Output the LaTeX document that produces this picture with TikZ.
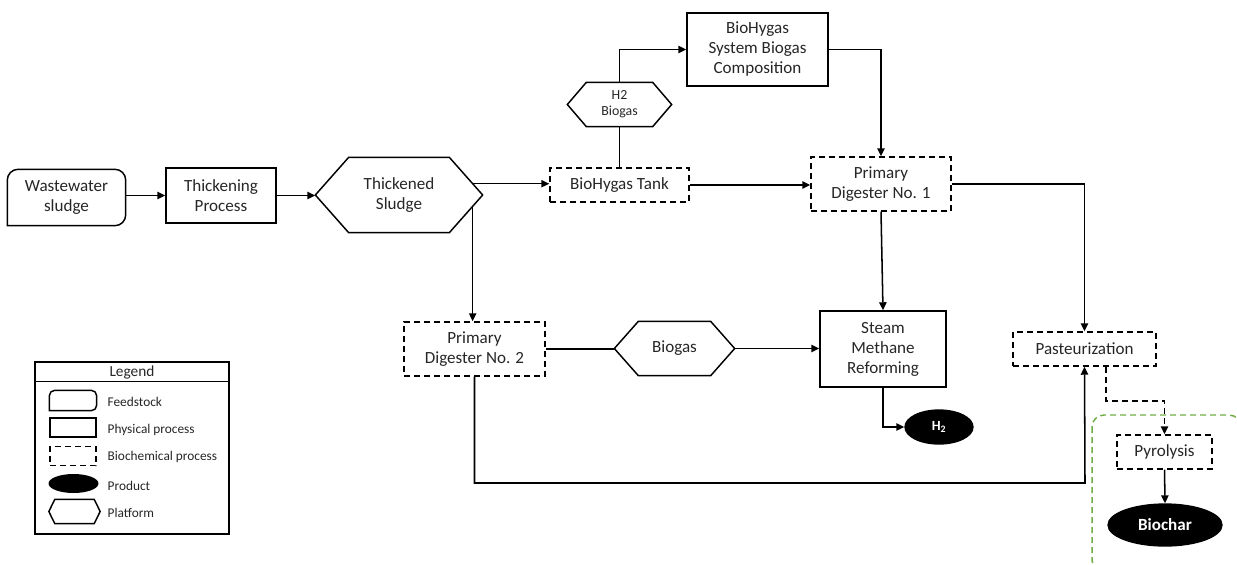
\documentclass[tikz,border=0pt]{standalone}
\usepackage{fontspec}
\setmainfont{Carlito}
\usetikzlibrary{arrows.meta,calc,shapes.geometric}

\definecolor{regiongreen}{RGB}{112,173,71}

\newcommand{\feedframe}[2]{\draw[line width=1.1pt] (#1.south west) [rounded corners=#2] -- (#1.north west) -- (#1.north east) -- (#1.south east) [sharp corners] -- cycle;}
\newcommand{\hexframe}[2]{\draw[line width=1.1pt] (#1.west) -- ([xshift=#2]#1.north west) -- ([xshift=-#2]#1.north east) -- (#1.east) -- ([xshift=-#2]#1.south east) -- ([xshift=#2]#1.south west) -- cycle;}

\tikzset{every picture/.style={line width=1pt}}
\tikzset{
  box/.style={align=center, inner sep=0pt, text=black!85, font=\fontsize{12.8}{15}\selectfont},
  physproc/.style={box, draw, line width=1.1pt},
  bioproc/.style={box, draw, line width=1.1pt, dash pattern=on 4.5pt off 3pt},
  feed/.style={box},
  platform/.style={box},
  product/.style={ellipse, fill=black, draw=black, inner sep=0pt, text=white, font=\bfseries\fontsize{12.8}{15}\selectfont},
  link/.style={line width=1.15pt},
  flow/.style={-{Triangle[length=6pt,width=5.5pt]}},
  legtext/.style={anchor=west, inner sep=0pt, text=black!85, font=\fontsize{10}{12}\selectfont}
}

\begin{document}
\begin{tikzpicture}[x=0.75pt,y=0.75pt,yscale=-1,xscale=1]
\useasboundingbox (0,0) rectangle (1237,564);

% Region of the thermochemical step
\draw[regiongreen, line width=1.1pt, dash pattern=on 4.5pt off 3pt, rounded corners=9pt] (1092,415) rectangle (1241,572);

% Feedstock and thickening
\node[feed, minimum width=87.75pt, minimum height=41.25pt] (ww) at (66.5,197.5) {Wastewater\\sludge};
\feedframe{ww}{8pt}
\node[physproc, minimum width=82.5pt, minimum height=41.25pt] (thick) at (221,195.5) {Thickening\\Process};
\node[platform, minimum width=124.5pt, minimum height=55.5pt] (tsl) at (399,195) {Thickened\\Sludge};
\hexframe{tsl}{25pt}

% BioHygas line
\node[bioproc, minimum width=104.25pt, minimum height=25.5pt] (tank) at (619.5,185) {BioHygas Tank};
\node[platform, minimum width=77.25pt, minimum height=32.25pt, font=\fontsize{10.4}{12}\selectfont] (h2bg) at (619.5,104.5) {H2\\Biogas};
\hexframe{h2bg}{14.25pt}
\node[physproc, minimum width=105.75pt, minimum height=54.75pt] (sys) at (757.5,49.5) {BioHygas\\System Biogas\\Composition};
\node[bioproc, minimum width=105pt, minimum height=40.5pt] (pd1) at (881,184) {Primary\\Digester No. 1};

% Second digester and reforming
\node[bioproc, minimum width=105.75pt, minimum height=40.5pt] (pd2) at (474.5,349) {Primary\\Digester No. 2};
\node[platform, minimum width=89.25pt, minimum height=39.75pt] (bgas) at (674.5,348.5) {Biogas};
\hexframe{bgas}{18pt}
\node[physproc, minimum width=94.5pt, minimum height=57pt] (smr) at (883,349) {Steam\\Methane\\Reforming};
\node[product, minimum width=51pt, minimum height=25.5pt, font=\bfseries\fontsize{10.5}{12}\selectfont] (h2) at (939,427) {H\textsubscript{2}};

% Pasteurization and pyrolysis
\node[bioproc, minimum width=107.25pt, minimum height=25.5pt] (past) at (1084.5,349) {Pasteurization};
\node[bioproc, minimum width=71.25pt, minimum height=25.5pt] (pyro) at (1164.5,452) {Pyrolysis};
\node[product, minimum width=85.5pt, minimum height=31.5pt] (biochar) at (1165,525) {Biochar};

% Connectors
\coordinate (tslup) at ($(tsl.east)!0.3!([xshift=-25pt]tsl.north east)$);
\coordinate (tsldn) at ($(tsl.east)!0.3!([xshift=-25pt]tsl.south east)$);
\coordinate (lowrun) at (1085,483);
\coordinate (pastout) at ($(past.south)+(21.5,0)$);
\draw[link,flow] (ww.east |- thick.west) -- (thick.west);
\draw[link,flow] (thick.east) -- (thick.east -| tsl.west);
\draw[link,flow] (tslup) -- (tslup -| tank.west);
\draw[link,flow] (tsldn) -- (tsldn |- pd2.north);
\draw[link] (tank.north) -- (h2bg.south);
\draw[link,flow] (h2bg.north) |- (sys.west);
\draw[link,flow] (sys.east) -| (pd1.north);
\draw[link,flow] (tank.east) -- (tank.east -| pd1.west);
\draw[link,flow] (pd1.east) -| (past.north);
\draw[link,flow] (pd1.south) -- (smr.north);
\draw[link] (pd2.east) -- (pd2.east -| bgas.west);
\draw[link,flow] (bgas.east) -- (bgas.east -| smr.west);
\draw[link,flow] (smr.south) |- (h2.west);
\draw[link,flow] (pd2.south) |- (lowrun) -- (past.south);
\draw[link,flow,dash pattern=on 4.5pt off 3pt] (pastout) -- ++(0,34) -| (pyro.north);
\draw[link,flow] (pyro.south) -- (biochar.north);

% Legend
\node[draw, line width=1.1pt, minimum width=145.5pt, minimum height=129pt, inner sep=0pt] (legend) at (132,448) {};
\draw[line width=1.1pt] ([yshift=15pt]legend.north west) -- ([yshift=15pt]legend.north east);
\node[inner sep=0pt, text=black!85, font=\fontsize{11.5}{13}\selectfont] (legtitle) at (132,372) {Legend};
\node[minimum width=34.5pt, minimum height=14.25pt, inner sep=0pt] (lgfeed) at (73,400.5) {};
\feedframe{lgfeed}{4pt}
\node[draw, line width=1.1pt, minimum width=34.5pt, minimum height=14.25pt, inner sep=0pt] (lgphys) at (73,427.5) {};
\node[draw, line width=1.1pt, dash pattern=on 4.5pt off 3pt, minimum width=34.5pt, minimum height=14.25pt, inner sep=0pt] (lgbio) at (73,456) {};
\node[ellipse, fill=black, minimum width=37.5pt, minimum height=14.25pt, inner sep=0pt] (lgprod) at (73.5,483.5) {};
\node[minimum width=37.5pt, minimum height=17.25pt, inner sep=0pt] (lgplat) at (74.5,511.5) {};
\hexframe{lgplat}{4.5pt}
\node[legtext] (lgfeedtxt) at (107,402) {Feedstock};
\node[legtext] (lgphystxt) at (107,430) {Physical process};
\node[legtext] (lgbiotxt) at (107,457) {Biochemical process};
\node[legtext] (lgprodtxt) at (107,486) {Product};
\node[legtext] (lgplattxt) at (107,513) {Platform};

\end{tikzpicture}
\end{document}
